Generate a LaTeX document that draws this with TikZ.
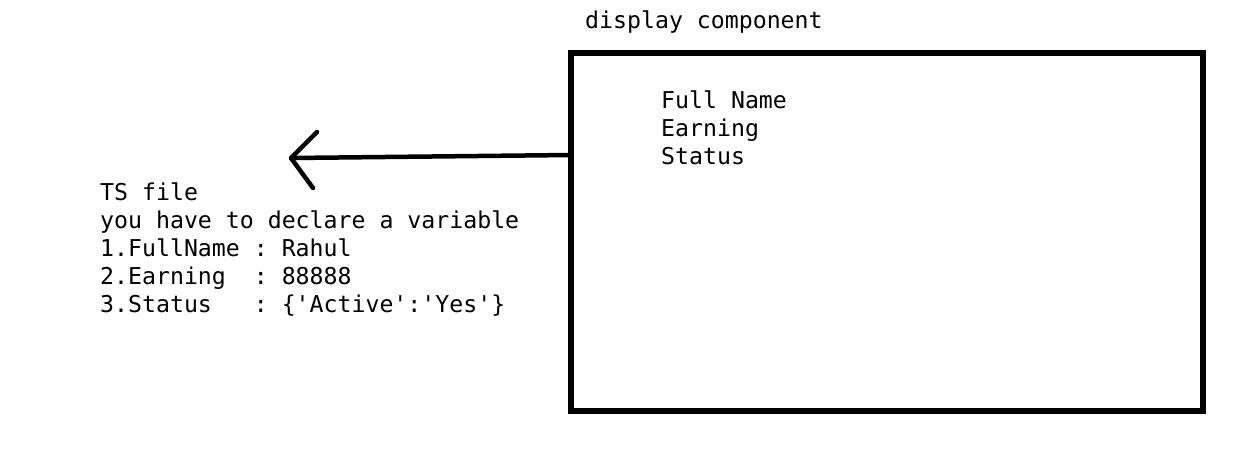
\documentclass[tikz,border=0pt]{standalone}
\usepackage{fontspec}
\setmonofont{DejaVu Sans Mono}
\begin{document}
\begin{tikzpicture}[x=1pt,y=-1pt,
  mono/.style={font=\ttfamily\fontsize{23.2}{28}\selectfont, inner sep=0pt, anchor=base west, align=left},
  frame/.style={draw, line width=5.5pt, minimum width=632pt, minimum height=358pt, inner sep=0pt},
  stroke/.style={line width=4.5pt, line cap=round, line join=round}]
\useasboundingbox (0,0) rectangle (1252,475);
\node[mono] (title) at (585,28) {display component};
\node[frame] (box) at (887,232) {};
\node[mono] (fields) at (661,164) {Full Name\\Earning\\Status};
\node[mono] (ts) at (100,312) {TS file\\you have to declare a variable\\1.FullName : Rahul\\2.Earning~~: 88888\\3.Status~~~: \{'Active':'Yes'\}};
\coordinate (tail) at (571,155);
\coordinate (tip) at (291,158);
\coordinate (h1) at (317,132);
\coordinate (h2) at (313,188);
\draw[stroke] (tail) -- (tip);
\draw[stroke] (h1) -- (tip) -- (h2);
\end{tikzpicture}
\end{document}
